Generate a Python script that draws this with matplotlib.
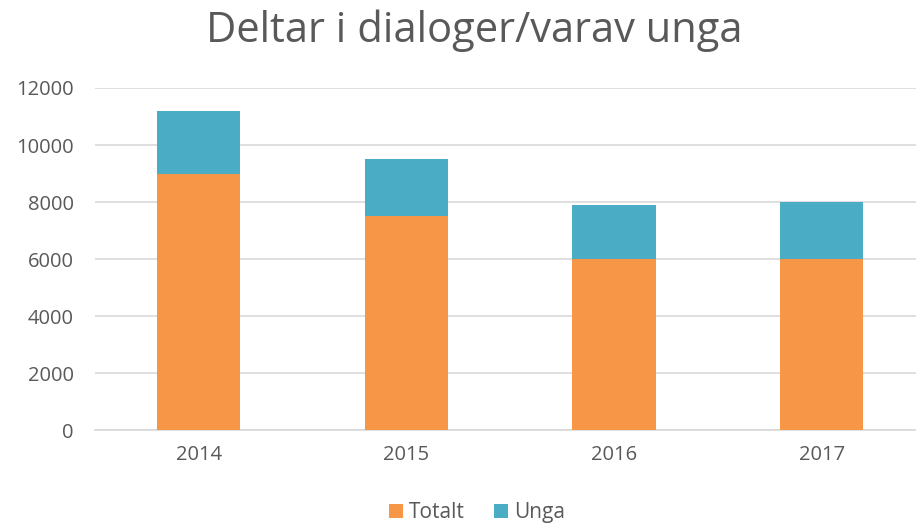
import matplotlib
matplotlib.use('Agg')
import matplotlib.pyplot as plt
import numpy as np

# Data
years = ['2014', '2015', '2016', '2017']
totalt = [9000, 7500, 6000, 6000]
unga = [2200, 2000, 1900, 2000]

plt.rcParams['font.family'] = ['Open Sans', 'DejaVu Sans']
textcol = '#595959'

fig = plt.figure(figsize=(9.16, 5.26), dpi=100)
ax = fig.add_axes([0.1034, 0.1825, 0.907, 0.6502])

pos = np.arange(len(years))
ax.bar(pos, totalt, width=0.4, color='#F79646', label='Totalt', zorder=3)
ax.bar(pos, unga, width=0.4, bottom=totalt, color='#4BACC6', label='Unga', zorder=3)

ax.set_xlim(-0.5, len(years) - 0.5)
ax.set_ylim(0, 12000)
ax.set_yticks(np.arange(0, 12001, 2000))
ax.set_xticks(pos)
ax.set_xticklabels(years)
ax.yaxis.grid(True, color='#D9D9D9', linewidth=1.2, zorder=0)
for s in ['top', 'right', 'left']:
    ax.spines[s].set_visible(False)
ax.spines['bottom'].set_color('#D9D9D9')
ax.spines['bottom'].set_linewidth(1.2)
ax.tick_params(length=0, labelsize=14.5, labelcolor=textcol)
ax.tick_params(axis='x', pad=11)
ax.tick_params(axis='y', pad=15)

fig.text(0.518, 0.942, 'Deltar i dialoger/varav unga', ha='center', va='center',
         fontsize=30, color=textcol)
fig.legend(loc='center', bbox_to_anchor=(0.521, 0.025), ncol=2, frameon=False,
           fontsize=15, handlelength=0.65, handleheight=0.65, handletextpad=0.3,
           columnspacing=1.4, labelcolor=textcol)

fig.savefig('out.png', dpi=100)
